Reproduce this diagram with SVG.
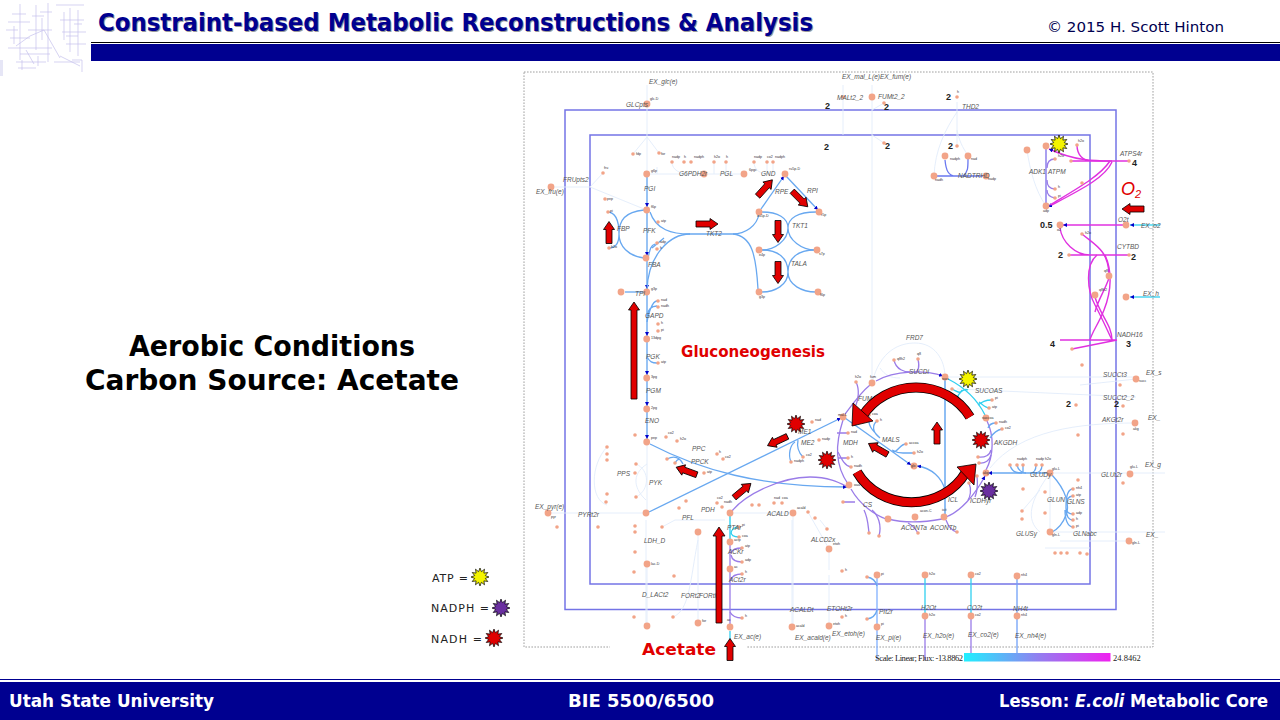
<svg xmlns="http://www.w3.org/2000/svg" width="1280" height="720" viewBox="0 0 1280 720">
<style>
text{font-family:"Liberation Sans",Arial,sans-serif}
.hd{font-family:"DejaVu Sans",sans-serif;font-weight:bold}
.lb{font-size:6.5px;font-style:italic;fill:#555}
.num{font-family:"Liberation Serif",serif;font-weight:bold;font-size:9px;fill:#222}
.big circle{fill:#f2a488;r:3.400px}
.big text{font-size:3.6px;fill:#333}
.dots circle{fill:#f2a488;r:1.800px}
.dots text{font-size:3.6px;fill:#333}
.l{fill:none;stroke-width:1.3}
.b{stroke:#68a8f0}
.p{stroke:#9a7ce8}
.m{stroke:#e030e0;stroke-width:1.4}
.c{stroke:#30d0f0}
.pl{fill:none;stroke:#e2ecfb;stroke-width:.9}
.ln{fill:none;stroke:#c4c0ec;stroke-width:.7}
.ar{fill:#e00000;stroke:#000;stroke-width:.8}
</style>
<defs>
<marker id="h" markerWidth="5" markerHeight="5" refX="4" refY="2" orient="auto" markerUnits="userSpaceOnUse"><path d="M0,0L4,2L0,4z" fill="#0000cc"/></marker>
<linearGradient id="sc"><stop offset="0" stop-color="#20f0ff"/><stop offset=".5" stop-color="#9080f0"/><stop offset="1" stop-color="#f020f0"/></linearGradient>
<polygon id="star" stroke="#000" stroke-width=".7" points="0,-9 1.42,-5.31 4.5,-7.8 3.89,-3.89 7.8,-4.5 5.31,-1.42 9,0 5.31,1.42 7.8,4.5 3.89,3.89 4.5,7.8 1.42,5.31 0,9 -1.42,5.31 -4.5,7.8 -3.89,3.89 -7.8,4.5 -5.31,1.42 -9,0 -5.31,-1.42 -7.8,-4.5 -3.89,-3.89 -4.5,-7.8 -1.42,-5.31"/>
<path id="arr" class="ar" d="M0,-11L5.5,-3L3,-3L3,11L-3,11L-3,-3L-5.5,-3z"/>
</defs>
<rect width="1280" height="720" fill="#fff"/>

<g id="logo">
<path class="ln" d="M20,4V60M8,22H30M36,5V50M48,3V62M28,30H52M56,5H84M70,8V52M78,10V56M60,20H84M10,38H30M16,46L30,36M62,32H86M66,44H86M8,48H52M20,54H50M16,62H46M18,68H36M54,62H80M60,56L80,66M72,60H82V72M30,36L44,30L52,44L60,58M22,60V70M12,14H26M14,26V44M40,12H52M42,18V40M32,16H44M6,30H18M64,12V40M74,24H82M66,36H78M26,50L34,64M38,56V66"/>
<rect x="0" y="60" width="3" height="16" fill="#e6e6f6"/>
</g>

<g id="header">
<rect x="91" y="42" width="1189" height="1" fill="#000"/>
<rect x="91" y="44" width="1189" height="17" fill="#000090"/>
<text class="hd" x="99" y="32" font-size="24" textLength="715" lengthAdjust="spacingAndGlyphs" fill="#999">Constraint-based Metabolic Reconstructions &amp; Analysis</text>
<text class="hd" x="98" y="31" font-size="24" textLength="715" lengthAdjust="spacingAndGlyphs" fill="#000090">Constraint-based Metabolic Reconstructions &amp; Analysis</text>
<text x="1047" y="32" style="font-family:'DejaVu Sans',sans-serif" font-size="13.5" textLength="177" lengthAdjust="spacingAndGlyphs" fill="#000050">© 2015 H. Scott Hinton</text>
</g>

<g id="heading">
<text class="hd" x="272" y="356" font-size="28" text-anchor="middle" textLength="286" lengthAdjust="spacingAndGlyphs" fill="#000">Aerobic Conditions</text>
<text class="hd" x="272" y="390" font-size="28" text-anchor="middle" textLength="374" lengthAdjust="spacingAndGlyphs" fill="#000">Carbon Source: Acetate</text>
</g>

<g id="frame">
<rect x="524" y="72" width="629" height="575" fill="none" stroke="#888" stroke-width=".8" stroke-dasharray="1.6 1.4"/>
<rect x="565" y="110" width="551" height="499.500" fill="none" stroke="#7474e6" stroke-width="1.5"/>
<rect x="590" y="135" width="500" height="449" fill="none" stroke="#7474e6" stroke-width="1.5"/>
<rect x="610" y="640" width="136" height="20" fill="#fff"/>
</g>

<g id="connectors">
<g id="pale">
<path class="pl" d="M647,85V513M647,137L633,154M647,137L659,153M551,187H590L603,173M590,187L644,209M646,174H744M657,167V174M672,162C672,170 680,174 690,174M714,162V174M726,162V174M754,162C754,170 760,174 770,174M767,162V174M773,162V174"/>
<path class="pl" d="M548,513H646M647,464C630,475 635,490 646,500M607,447C590,465 590,500 607,505M636,464C650,470 650,490 636,497M646,520V626M647,564V626M662,527L675,520H725M698,532V623M698,540C690,580 690,610 673,617M730,513H793M793,513V627M808,512L829,549M827,529L820,520M829,549V570M829,575V626M792,520V627"/>
<path class="pl" d="M843,85V97M872,85V383M843,100V135M872,110L884,103M872,135L884,143M957,102V146M957,112C945,130 935,150 934,176M957,130C960,145 965,150 968,156"/>
<path class="pl" d="M872,383C880,350 900,343 915,343C935,343 945,360 945,377M945,377H1136M880,368C885,375 890,378 900,378M957,389L1136,397M990,468C1020,430 1080,423 1135,423M1050,473H1165M1050,532H1165M1130,541L1060,541M1045,548L1090,548M1050,473C1030,500 1025,520 1040,532M1040,490L1022,511M1050,473V532M1080,385L1136,379M1027,150C1030,170 1035,190 1046,206"/>
</g>
<g id="glycolysis" class="l b">
<path marker-end="url(#h)" d="M647,174V207"/>
<path marker-end="url(#h)" d="M647,213V256"/>
<path marker-end="url(#h)" d="M647,261V289"/>
<path marker-end="url(#h)" d="M647,295V336"/>
<path marker-end="url(#h)" d="M647,342V375"/>
<path marker-end="url(#h)" d="M647,381V406"/>
<path marker-end="url(#h)" d="M647,412V439"/>
<path d="M647,292H625"/>
<path d="M647,316C648,309 652,306 657,306M647,322C648,315 652,301 657,301M647,357C650,362 652,363 657,363"/>
<path d="M644,210C625,212 619,220 619,234C619,246 628,256 644,258M607,212C615,212 619,220 619,234C619,244 615,248 609,248"/>
<path d="M650,212C656,230 672,234 690,234H733C745,234 757,226 759,214"/>
<path d="M647,290C648,255 670,234 690,234M652,248L664,238M655,244C650,246 650,250 648,258"/>
<path d="M733,234C752,236 756,255 758,289"/>
<path marker-end="url(#h)" d="M761,209L784,176"/>
<path marker-end="url(#h)" d="M786,176L818,210"/>
<path d="M762,212C778,212 788,218 788,228C788,240 775,250 762,250M816,212C798,212 788,218 788,228C788,240 802,250 815,250"/>
<path d="M762,250C778,250 788,258 788,272C788,285 775,292 762,292M815,250C798,250 788,258 788,272C788,285 802,292 816,292"/>
<path marker-end="url(#h)" d="M650,444C700,470 760,487 847,487"/>
<path marker-end="url(#h)" d="M649,512L841,418"/>
<path d="M667,459C675,455 680,458 683,464M675,463C678,458 680,458 683,464"/>
<path d="M791,462C788,455 790,445 795,442M803,457C798,452 797,445 798,440"/>
</g>
<g id="tca" class="l">
<path class="p" d="M732,511C745,495 780,477 810,477C830,477 840,483 848,487"/>
<path class="p" d="M843,417C852,405 860,393 870,385"/>
<path class="p" marker-end="url(#h)" d="M876,381C895,370 925,370 943,376"/>
<path class="p" d="M894,360C896,370 905,372 910,372M918,359C920,368 918,372 914,373"/>
<path class="p" d="M856,382C860,390 858,400 856,405"/>
<path class="p" d="M843,420C835,445 835,465 848,484"/>
<path class="p" d="M848,433H837M848,458H838M851,467C845,466 842,460 838,452"/>
<path class="p" d="M851,489C860,505 875,515 886,519"/>
<path class="p" d="M843,502H855M869,533C868,525 868,518 864,510M879,536C882,525 878,515 872,510"/>
<path class="p" d="M888,519C900,522 915,524 942,519"/>
<path class="p" d="M918,533C915,528 912,525 908,523M957,532C950,530 948,525 946,520"/>
<path class="p" marker-end="url(#h)" d="M946,517C960,512 975,495 985,476"/>
<path class="p" d="M969,483C972,490 970,497 968,500M977,476C978,485 977,492 975,497"/>
<path class="p" d="M986,470C994,455 994,435 987,421"/>
<path class="p" d="M978,457C985,458 990,455 991,450M979,463C985,464 990,460 991,455"/>
<path class="b" d="M996,423C992,423 989,425 988,428M1002,429C996,430 992,435 990,438"/>
<path class="c" d="M948,379C960,385 975,395 985,415"/>
<path class="c" d="M952,389C958,392 960,394 962,390M957,399C958,393 964,388 968,390M992,400C985,400 982,402 978,405M989,408C985,408 982,404 979,402"/>
<path class="b" marker-end="url(#h)" d="M845,418L911,465"/>
<path class="b" d="M869,415C867,425 872,430 880,438M877,421C872,425 872,432 880,438M906,444C900,444 898,452 893,452M914,453H903C900,453 897,453 892,450"/>
<path class="b" marker-end="url(#h)" d="M945,490C942,478 932,468 917,466"/>
<path class="b" stroke-width="1.5" d="M945,377V517"/>
<path class="b" stroke-width="1.5" marker-end="url(#h)" d="M1048,473H988"/>
<path class="b" d="M1010,465C1012,472 1016,473 1022,473M1017,465C1018,470 1022,473 1026,473M1023,465V473M1036,465C1036,470 1034,473 1030,473M1042,465C1042,470 1040,473 1034,473"/>
<path class="b" d="M1052,475C1066,490 1070,505 1066,515C1062,526 1056,530 1052,532"/>
<path class="b" d="M1073,489C1068,489 1066,495 1066,507M1073,496C1068,496 1066,500 1066,507M1073,514C1068,514 1066,512 1066,507M1073,520C1068,520 1066,515 1066,507M1073,527C1068,527 1065,520 1065,510"/>
</g>
<g id="acetate" class="l">
<path class="c" stroke-width="1.4" d="M730,515V540"/>
<path class="c" d="M739,527C734,527 731,530 731,534M739,537C734,537 731,535 731,532"/>
<path class="p" d="M730,544V567M730,571V624"/>
<path class="p" d="M742,548C736,548 732,550 731,553M742,562C736,562 732,560 731,555M742,574C736,574 732,576 731,580M742,618C736,618 732,616 730,612"/>
<path class="c" d="M730,631V640"/>
</g>
<g id="exchange" class="l">
<path stroke="#80b0ff" stroke-width="1.3" d="M877,578V660"/>
<path class="b" d="M867,577C874,578 876,582 877,586M867,619C874,618 876,614 877,610"/>
<path class="c" stroke-width="1.3" d="M925,578V614"/><path class="p" stroke-width="1.3" d="M925,619V660"/>
<path class="c" stroke-width="1.3" d="M971,578V614"/><path class="p" stroke-width="1.3" d="M971,619V660"/>
<path stroke="#70a0f8" stroke-width="1.3" d="M1017,578V660"/>
</g>
<g id="respiration" class="l">
<path stroke="#7c6ce8" d="M1046,149V204"/>
<path class="p" d="M1055,159C1049,159 1047,162 1047,168M1055,189C1049,189 1047,186 1047,180M1055,198C1049,197 1047,194 1047,190"/>
<path class="m" marker-end="url(#h)" d="M1112,161C1095,161 1075,161 1049,149"/>
<path class="m" d="M1071,161H1129M1077,145C1077,155 1083,161 1092,161"/>
<path class="m" marker-end="url(#h)" d="M1112,162C1105,178 1080,190 1048,207"/>
<path class="m" d="M1110,161C1100,176 1078,188 1050,205"/>
<path class="m" marker-end="url(#h)" d="M1124,225H1063"/>
<path class="c" marker-end="url(#h)" d="M1160,225H1130"/>
<path class="m" d="M1060,228C1062,242 1075,255 1090,255M1069,255H1129"/>
<path class="m" d="M1082,234C1095,245 1108,250 1109,274"/>
<path class="m" d="M1097,255C1085,265 1087,290 1095,305C1103,320 1108,332 1112,340"/>
<path class="m" d="M1105,255C1112,270 1112,290 1104,310C1098,325 1092,332 1090,340"/>
<path class="m" d="M1095,297C1100,315 1112,325 1112,340M1109,278C1105,290 1098,300 1095,312"/>
<path class="m" d="M1060,340H1117M1072,349L1117,340"/>
<path class="c" marker-end="url(#h)" d="M1160,297H1130"/>
<path stroke="#6a78f0" d="M934,176H986M945,160C946,170 948,176 956,176M968,159C968,168 968,172 963,176"/>
</g>
</g>

<g id="nodes">
<g class="big">
<g id="glcpts"><circle cx="647" cy="104"/><text x="650" y="100">glc-D</text></g>
<g id="fru"><circle cx="551" cy="187"/></g>
<g id="g6p"><circle cx="646.700" cy="174"/><text x="651" y="172">g6p</text></g>
<g id="f6p"><circle cx="646.700" cy="210"/><text x="651" y="208">f6p</text></g>
<g id="fdp"><circle cx="646" cy="258"/></g>
<g id="g3p"><circle cx="646.700" cy="292"/><text x="651" y="290">g3p</text></g>
<g id="dhap"><circle cx="621" cy="292"/></g>
<g id="dpg13"><circle cx="646.700" cy="339"/><text x="651" y="339">13dpg</text></g>
<g id="pg3"><circle cx="646.700" cy="378"/><text x="651" y="378">3pg</text></g>
<g id="pg2"><circle cx="646.700" cy="409"/><text x="651" y="409">2pg</text></g>
<g id="pep"><circle cx="646.700" cy="442"/><text x="651" y="439">pep</text></g>
<g id="pyr"><circle cx="646" cy="513"/></g>
<g id="pgl6"><circle cx="704" cy="174"/></g>
<g id="pgc6"><circle cx="744" cy="174"/><text x="749" y="171">6pgc</text></g>
<g id="ru5p"><circle cx="785" cy="174"/><text x="789" y="170">ru5p-D</text></g>
<g id="xu5p"><circle cx="759" cy="212"/><text x="757" y="217">xu5p-D</text></g>
<g id="r5p"><circle cx="819" cy="212"/><text x="821" y="216">r5p</text></g>
<g id="e4p"><circle cx="759" cy="250"/><text x="759" y="256">e4p</text></g>
<g id="s7p"><circle cx="817" cy="250"/><text x="819" y="255">s7p</text></g>
<g id="g3p2"><circle cx="759" cy="292"/><text x="759" y="298">g3p</text></g>
<g id="f6p2"><circle cx="818" cy="292"/><text x="820" y="296">f6p</text></g>
<g id="mal"><circle cx="843" cy="417"/><text x="838" y="416">mal-L</text></g>
<g id="fum"><circle cx="872" cy="383"/><text x="870" y="378">fum</text></g>
<g id="succ"><circle cx="945" cy="377"/><text x="942" y="380">succ</text></g>
<g id="succoa"><circle cx="986" cy="418"/><text x="982" y="419">succoa</text></g>
<g id="akg"><circle cx="986" cy="473"/><text x="983" y="474">akg</text></g>
<g id="icit"><circle cx="944" cy="517"/><text x="942" y="511">icit</text></g>
<g id="acon"><circle cx="915" cy="517"/><text x="920" y="512">acon-C</text></g>
<g id="cit"><circle cx="888" cy="519"/></g>
<g id="oaa"><circle cx="849" cy="485"/><text x="854" y="486">oaa</text></g>
<g id="glx"><circle cx="914" cy="466"/><text x="911" y="467">glx</text></g>
<g id="accoa"><circle cx="730" cy="513"/></g>
<g id="actp"><circle cx="730" cy="542"/><text x="734" y="541">actp</text></g>
<g id="ac"><circle cx="730" cy="569"/><text x="734" y="568">ac</text></g>
<g id="exac"><circle cx="730" cy="627"/><text x="727" y="621">ac</text></g>
<g id="acald"><circle cx="793" cy="513"/><text x="797" y="509">acald</text></g>
<g id="etoh"><circle cx="829" cy="549"/><text x="833" y="545">etoh</text></g>
<g id="for"><circle cx="698" cy="532"/></g>
<g id="lac"><circle cx="647" cy="564"/><text x="651" y="565">lac-D</text></g>
<g id="exlac"><circle cx="647" cy="626"/></g>
<g id="exfor"><circle cx="698" cy="623"/><text x="702" y="622">for</text></g>
<g id="exacald"><circle cx="792" cy="627"/><text x="796" y="627">acald</text></g>
<g id="exetoh"><circle cx="829" cy="626"/><text x="833" y="625">etoh</text></g>
<g id="pi1"><circle cx="877" cy="575"/><text x="881" y="575">pi</text></g>
<g id="pi2"><circle cx="877" cy="627"/><text x="881" y="625">pi</text></g>
<g id="h2o1"><circle cx="925" cy="575"/><text x="929" y="575">h2o</text></g>
<g id="h2o2"><circle cx="925" cy="616"/><text x="929" y="616">h2o</text></g>
<g id="co21"><circle cx="971" cy="575"/><text x="975" y="575">co2</text></g>
<g id="co22"><circle cx="971" cy="616"/><text x="975" y="616">co2</text></g>
<g id="nh41"><circle cx="1017" cy="576"/><text x="1021" y="576">nh4</text></g>
<g id="nh42"><circle cx="1017" cy="616"/><text x="1021" y="616">nh4</text></g>
<g id="pyre"><circle cx="548" cy="513"/><text x="551" y="518">pyr</text></g>
<g id="atp"><circle cx="1046" cy="146"/></g>
<g id="adp"><circle cx="1046" cy="206"/><text x="1043" y="212">adp</text></g>
<g id="amp"><circle cx="1027" cy="150"/></g>
<g id="o2"><circle cx="1060" cy="225"/><text x="1057" y="231">o2</text></g>
<g id="o2e"><circle cx="1126" cy="225"/></g>
<g id="q8"><circle cx="1109" cy="276"/><text x="1104" y="272">q8</text></g>
<g id="q8h2"><circle cx="1095" cy="295"/><text x="1099" y="291">q8h2</text></g>
<g id="he"><circle cx="1126" cy="297"/></g>
<g id="nadph"><circle cx="945" cy="156"/><text x="950" y="160">nadph</text></g>
<g id="nad"><circle cx="968" cy="156"/><text x="971" y="160">nad</text></g>
<g id="nadh"><circle cx="934" cy="176"/><text x="935" y="181">nadh</text></g>
<g id="nadp"><circle cx="986" cy="176"/><text x="988" y="180">nadp</text></g>
<g id="fume"><circle cx="872" cy="97"/></g>
<g id="glun"><circle cx="1050" cy="473"/><text x="1052" y="470">glu-L</text></g>
<g id="gln"><circle cx="1050" cy="532"/><text x="1052" y="536">gln-L</text></g>
<g id="glue"><circle cx="1130" cy="474"/><text x="1130" y="468">glu-L</text></g>
<g id="glne"><circle cx="1129" cy="541"/><text x="1132" y="544">gln-L</text></g>
<g id="akge"><circle cx="1135" cy="423"/><text x="1133" y="430">akg</text></g>
<g id="succe"><circle cx="1136" cy="379"/><text x="1139" y="382">succ</text></g>
</g>
<g id="minor" class="dots">
<circle cx="633" cy="154"/><text x="636" y="155">fdp</text><circle cx="659" cy="153"/><text x="661" y="155">for</text>
<circle cx="603" cy="173"/><text x="604" y="169">fru</text><circle cx="605" cy="199"/><text x="607" y="200">pep</text>
<circle cx="672" cy="162"/><text x="672" y="158">nadp</text><circle cx="684" cy="162"/><text x="684" y="158">h</text><circle cx="691" cy="162"/><text x="694" y="158">nadph</text>
<circle cx="714" cy="162"/><text x="714" y="158">h2o</text><circle cx="726" cy="162"/><text x="726" y="158">h</text>
<circle cx="754" cy="162"/><text x="754" y="158">nadp</text><circle cx="767" cy="162"/><text x="767" y="158">co2</text><circle cx="773" cy="162"/><text x="775" y="158">nadph</text>
<circle cx="608" cy="212"/><text x="610" y="212">pi</text><circle cx="609" cy="248"/><text x="611" y="248">h2o</text>
<circle cx="658" cy="222"/><text x="661" y="222">atp</text><circle cx="657" cy="243"/><text x="660" y="243">adp</text><circle cx="657" cy="249"/><text x="660" y="249">h</text>
<circle cx="658" cy="301"/><text x="661" y="301">nad</text><circle cx="658" cy="307"/><text x="661" y="307">nadh</text><circle cx="658" cy="324"/><text x="661" y="324">h</text><circle cx="658" cy="331"/><text x="661" y="331">pi</text><circle cx="658" cy="363"/><text x="661" y="363">atp</text>
<circle cx="666" cy="437"/><text x="668" y="434">co2</text><circle cx="677" cy="441"/><text x="680" y="440">h2o</text>
<circle cx="607" cy="447"/><circle cx="607" cy="454"/><circle cx="607" cy="460"/><circle cx="636" cy="464"/><circle cx="635" cy="473"/><circle cx="607" cy="494"/><circle cx="606" cy="502"/><circle cx="636" cy="497"/><circle cx="635" cy="435"/>
<circle cx="667" cy="459"/><circle cx="675" cy="463"/><circle cx="717" cy="454"/><text x="719" y="453">h</text><circle cx="723" cy="459"/><text x="725" y="458">co2</text><circle cx="704" cy="473"/><text x="707" y="473">atp</text>
<circle cx="686" cy="501"/><circle cx="679" cy="508"/><circle cx="717" cy="503"/><text x="717" y="499">co2</text><circle cx="722" cy="507"/><text x="724" y="503">nadh</text>
<circle cx="752" cy="505"/><circle cx="759" cy="505"/><circle cx="774" cy="503"/><text x="774" y="499">nad</text><circle cx="782" cy="503"/><text x="782" y="499">coa</text>
<circle cx="808" cy="512"/><circle cx="815" cy="518"/><circle cx="827" cy="529"/><circle cx="557" cy="527"/><circle cx="598" cy="527"/><circle cx="635" cy="526"/><circle cx="635" cy="532"/><circle cx="662" cy="527"/><circle cx="635" cy="552"/>
<circle cx="739" cy="527"/><text x="742" y="526">pi</text><circle cx="739" cy="537"/><text x="742" y="537">coa</text><circle cx="742" cy="548"/><text x="745" y="547">atp</text><circle cx="742" cy="562"/><text x="745" y="561">adp</text><circle cx="742" cy="574"/><text x="745" y="573">h</text><circle cx="742" cy="618"/><text x="745" y="617">h</text>
<circle cx="812" cy="422"/><text x="815" y="421">nad</text><circle cx="819" cy="440"/><text x="822" y="440">nadp</text><circle cx="791" cy="462"/><text x="794" y="462">nadph</text><circle cx="803" cy="457"/><text x="806" y="456">co2</text>
<circle cx="634" cy="572"/><circle cx="674" cy="576"/><circle cx="842" cy="571"/><text x="845" y="571">h</text><circle cx="867" cy="577"/><circle cx="867" cy="619"/><circle cx="634" cy="617"/><circle cx="673" cy="617"/><circle cx="842" cy="617"/><text x="845" y="617">h</text>
<circle cx="894" cy="360"/><text x="897" y="360">q8h2</text><circle cx="918" cy="359"/><text x="917" y="355">q8</text><circle cx="856" cy="382"/><text x="855" y="378">h2o</text>
<circle cx="952" cy="389"/><circle cx="957" cy="399"/><circle cx="992" cy="400"/><text x="995" y="399">pi</text><circle cx="989" cy="408"/><text x="992" y="408">atp</text>
<circle cx="869" cy="415"/><text x="872" y="415">coa</text><circle cx="877" cy="421"/><text x="880" y="421">h</text><circle cx="996" cy="423"/><text x="999" y="423">nadh</text><circle cx="1002" cy="429"/><text x="1005" y="429">co2</text>
<circle cx="906" cy="444"/><text x="909" y="444">accoa</text><circle cx="914" cy="453"/><text x="917" y="453">h2o</text><circle cx="848" cy="433"/><text x="851" y="433">nad</text><circle cx="848" cy="458"/><text x="851" y="458">h</text><circle cx="851" cy="467"/><text x="854" y="467">nadh</text>
<circle cx="978" cy="457"/><circle cx="979" cy="463"/><circle cx="969" cy="483"/><circle cx="977" cy="476"/><circle cx="843" cy="502"/><circle cx="869" cy="533"/><circle cx="879" cy="536"/><circle cx="918" cy="533"/><circle cx="957" cy="532"/>
<circle cx="1010" cy="465"/><circle cx="1017" cy="465"/><text x="1017" y="460">nadph</text><circle cx="1023" cy="465"/><circle cx="1036" cy="465"/><circle cx="1042" cy="465"/><text x="1036" y="460">nadp h2o</text>
<circle cx="1045" cy="492"/><circle cx="1023" cy="489"/><circle cx="1022" cy="511"/><circle cx="1022" cy="519"/><circle cx="1045" cy="513"/>
<circle cx="1073" cy="489"/><text x="1076" y="489">nh4</text><circle cx="1073" cy="496"/><text x="1076" y="496">atp</text><circle cx="1073" cy="514"/><text x="1076" y="514">adp</text><circle cx="1073" cy="520"/><text x="1076" y="520">h</text><circle cx="1073" cy="527"/><text x="1076" y="527">pi</text><circle cx="1078" cy="480"/>
<circle cx="1055" cy="553"/><circle cx="1061" cy="553"/><circle cx="1067" cy="553"/><circle cx="1080" cy="553"/><circle cx="1087" cy="554"/><circle cx="1123" cy="483"/><circle cx="1123" cy="434"/><circle cx="1078" cy="435"/><circle cx="1120" cy="385"/><circle cx="1082" cy="365"/><circle cx="1076" cy="405"/><circle cx="1123" cy="406"/><circle cx="1072" cy="349"/>
<circle cx="957" cy="97"/><text x="957" y="93">h</text><circle cx="843" cy="97"/><circle cx="884" cy="103"/><circle cx="884" cy="143"/><circle cx="957" cy="146"/>
<circle cx="1071" cy="161"/><circle cx="1077" cy="145"/><text x="1078" y="142">h2o</text><circle cx="1129" cy="161"/><circle cx="1082" cy="183"/><circle cx="1055" cy="159"/><text x="1058" y="157">h2o</text><circle cx="1055" cy="189"/><text x="1058" y="188">h</text><circle cx="1055" cy="198"/><text x="1058" y="197">pi</text>
<circle cx="1082" cy="234"/><text x="1085" y="234">h2o</text><circle cx="1069" cy="255"/><circle cx="1129" cy="255"/>
</g>
</g>

<g id="labels" class="lb">
<text x="649" y="84">EX_glc(e)</text><text x="626" y="107">GLCpts</text><text x="842" y="79">EX_mal_L(e)</text><text x="880" y="79">EX_fum(e)</text><text x="837" y="100">MALt2_2</text><text x="878" y="99">FUMt2_2</text><text x="962" y="109">THD2</text>
<text x="536" y="194">EX_fru(e)</text><text x="563" y="182">FRUpts2</text><text x="644" y="191">PGI</text><text x="679" y="176">G6PDH2r</text><text x="720" y="176">PGL</text><text x="761" y="176">GND</text><text x="775" y="194">RPE</text><text x="807" y="193">RPI</text><text x="792" y="228">TKT1</text><text x="791" y="266">TALA</text><text x="706" y="236">TKT2</text><text x="617" y="231">FBP</text><text x="643" y="233">PFK</text><text x="648" y="267">FBA</text><text x="635" y="296">TPI</text><text x="645" y="318">GAPD</text><text x="646" y="359">PGK</text><text x="646" y="393">PGM</text><text x="645" y="423">ENO</text>
<text x="692" y="451">PPC</text><text x="691" y="464">PPCK</text><text x="617" y="476">PPS</text><text x="649" y="485">PYK</text><text x="701" y="512">PDH</text><text x="682" y="520">PFL</text><text x="767" y="516">ACALD</text><text x="644" y="543">LDH_D</text><text x="728" y="554">ACKr</text><text x="727" y="530">PTAr</text><text x="729" y="582">ACt2r</text><text x="811" y="542">ALCD2x</text><text x="642" y="597">D_LACt2</text><text x="681" y="598">FORt2</text><text x="699" y="598">FORti</text><text x="790" y="612">ACALDt</text><text x="827" y="611">ETOHt2r</text><text x="879" y="614">PIt2r</text><text x="921" y="610">H2Ot</text><text x="967" y="610">CO2t</text><text x="1013" y="611">NH4t</text>
<text x="734" y="639">EX_ac(e)</text><text x="795" y="640">EX_acald(e)</text><text x="832" y="636">EX_etoh(e)</text><text x="876" y="640">EX_pi(e)</text><text x="923" y="638">EX_h2o(e)</text><text x="968" y="637">EX_co2(e)</text><text x="1015" y="638">EX_nh4(e)</text><text x="535" y="509">EX_pyr(e)</text><text x="578" y="517">PYRt2r</text>
<text x="798" y="434">ME1</text><text x="801" y="445">ME2</text><text x="843" y="445">MDH</text><text x="858" y="401">FUM</text><text x="906" y="340">FRD7</text><text x="909" y="374">SUCDi</text><text x="975" y="393">SUCOAS</text><text x="882" y="442">MALS</text><text x="994" y="445">AKGDH</text><text x="948" y="502">ICL</text><text x="970" y="503">ICDHyr</text><text x="863" y="507">CS</text><text x="901" y="530">ACONTa</text><text x="930" y="530">ACONTb</text><text x="1030" y="477">GLUDy</text><text x="1047" y="502">GLUN</text><text x="1067" y="504">GLNS</text><text x="1016" y="536">GLUSy</text><text x="1073" y="536">GLNabc</text><text x="1101" y="477">GLUt2r</text>
<text x="1103" y="377">SUCCt3</text><text x="1103" y="400">SUCCt2_2</text><text x="1102" y="422">AKGt2r</text><text x="1146" y="375">EX_s</text><text x="1148" y="420">EX_</text><text x="1145" y="467">EX_g</text><text x="1146" y="537">EX_</text><text x="1120" y="156">ATPS4r</text><text x="1118" y="222">O2t</text><text x="1141" y="228">EX_o2</text><text x="1117" y="249">CYTBD</text><text x="1143" y="296">EX_h</text><text x="1117" y="337">NADH16</text><text x="1029" y="174">ADK1</text><text x="1048" y="174">ATPM</text><text x="958" y="178">NADTRHD</text>
</g>
<g id="stoich" class="num">
<text x="825" y="109">2</text><text x="884" y="110">2</text><text x="946" y="100">2</text><text x="824" y="150">2</text><text x="885" y="149">2</text><text x="948" y="149">2</text><text x="1040" y="228">0.5</text><text x="1058" y="258">2</text><text x="1131" y="260">2</text><text x="1050" y="347">4</text><text x="1126" y="347">3</text><text x="1066" y="407">2</text><text x="1114" y="407">2</text><text x="1132" y="166">4</text>
</g>

<g id="scale">
<text x="875" y="661" font-size="8.5" style="font-family:'Liberation Serif',serif" fill="#222" textLength="88">Scale: Linear; Flux: -13.8862</text>
<rect x="964" y="653" width="146.500" height="8.500" fill="url(#sc)"/>
<text x="1113" y="661" font-size="8.5" style="font-family:'Liberation Serif',serif" fill="#222">24.8462</text>
</g>

<g id="annotations">
<use href="#arr" transform="translate(609,232.500)"/>
<use href="#arr" transform="translate(707,224) rotate(90)"/>
<use href="#arr" transform="translate(765,188) rotate(42)"/>
<use href="#arr" transform="translate(800,199) rotate(135)"/>
<use href="#arr" transform="translate(778,231.500) rotate(180)"/>
<use href="#arr" transform="translate(778,272.500) rotate(180)"/>
<path class="ar" d="M634,302L639.500,310L637,310L637,399L631,399L631,310L628.500,310z"/>
<path class="ar" d="M719,527L725,536L722,536L722,623L716,623L716,536L713,536z"/>
<use href="#arr" transform="translate(777.500,441) rotate(-115)"/>
<use href="#arr" transform="translate(686.500,471) rotate(-70)"/>
<use href="#arr" transform="translate(742.500,490.500) rotate(50)"/>
<use href="#arr" transform="translate(730,649.500)"/>
<use href="#arr" transform="translate(1133,209) rotate(-90)"/>
<use href="#arr" transform="translate(937,433)"/>
<use href="#arr" transform="translate(878,449) rotate(-60)"/>
<path d="M970,417A62,58 0 0 0 862,417" fill="none" stroke="#000" stroke-width="10"/>
<path d="M970,417A62,58 0 0 0 862,417" fill="none" stroke="#e00000" stroke-width="8.400"/>
<polygon class="ar" points="852,426 853,403 873,421"/>
<path d="M857,472A62,58 0 0 0 966,472" fill="none" stroke="#000" stroke-width="10"/>
<path d="M857,472A62,58 0 0 0 966,472" fill="none" stroke="#e00000" stroke-width="8.400"/>
<polygon class="ar" points="976,464 957,467 974,485"/>
<use href="#star" x="1059" y="144" fill="#f4f400"/>
<use href="#star" x="968" y="379" fill="#f4f400"/>
<use href="#star" x="796" y="424" fill="#e00000"/>
<use href="#star" x="827" y="460" fill="#e00000"/>
<use href="#star" x="981" y="440" fill="#e00000"/>
<use href="#star" x="989" y="491" fill="#6a2fa0"/>
<text class="hd" x="681" y="357" font-size="15" textLength="144" lengthAdjust="spacingAndGlyphs" fill="#e00000">Gluconeogenesis</text>
<text class="hd" x="642" y="655" font-size="15" textLength="74" lengthAdjust="spacingAndGlyphs" fill="#e00000">Acetate</text>
<text x="1121" y="195" font-size="18" font-style="italic" fill="#e00000">O<tspan font-size="11" dy="3">2</tspan></text>
</g>

<g id="legend">
<text x="432" y="582" font-size="11" style="font-family:'DejaVu Sans',sans-serif" textLength="36" fill="#222">ATP =</text>
<use href="#star" x="480" y="577" fill="#f4f400"/>
<text x="431" y="612" font-size="11" style="font-family:'DejaVu Sans',sans-serif" textLength="58" fill="#222">NADPH =</text>
<use href="#star" x="501" y="608" fill="#6a2fa0"/>
<text x="431" y="643" font-size="11" style="font-family:'DejaVu Sans',sans-serif" textLength="51" fill="#222">NADH =</text>
<use href="#star" x="494" y="638" fill="#e00000"/>
</g>

<g id="footer">
<rect x="0" y="679" width="1280" height="1" fill="#000090"/>
<rect x="0" y="682" width="1280" height="38" fill="#000090"/>
<text class="hd" x="9" y="707" font-size="17" textLength="205" lengthAdjust="spacingAndGlyphs" fill="#fff">Utah State University</text>
<text class="hd" x="568" y="707" font-size="17" textLength="146" lengthAdjust="spacingAndGlyphs" fill="#fff">BIE 5500/6500</text>
<text class="hd" x="999" y="707" font-size="17" textLength="269" lengthAdjust="spacingAndGlyphs" fill="#fff">Lesson: <tspan font-style="italic">E.coli</tspan> Metabolic Core</text>
</g>
</svg>
